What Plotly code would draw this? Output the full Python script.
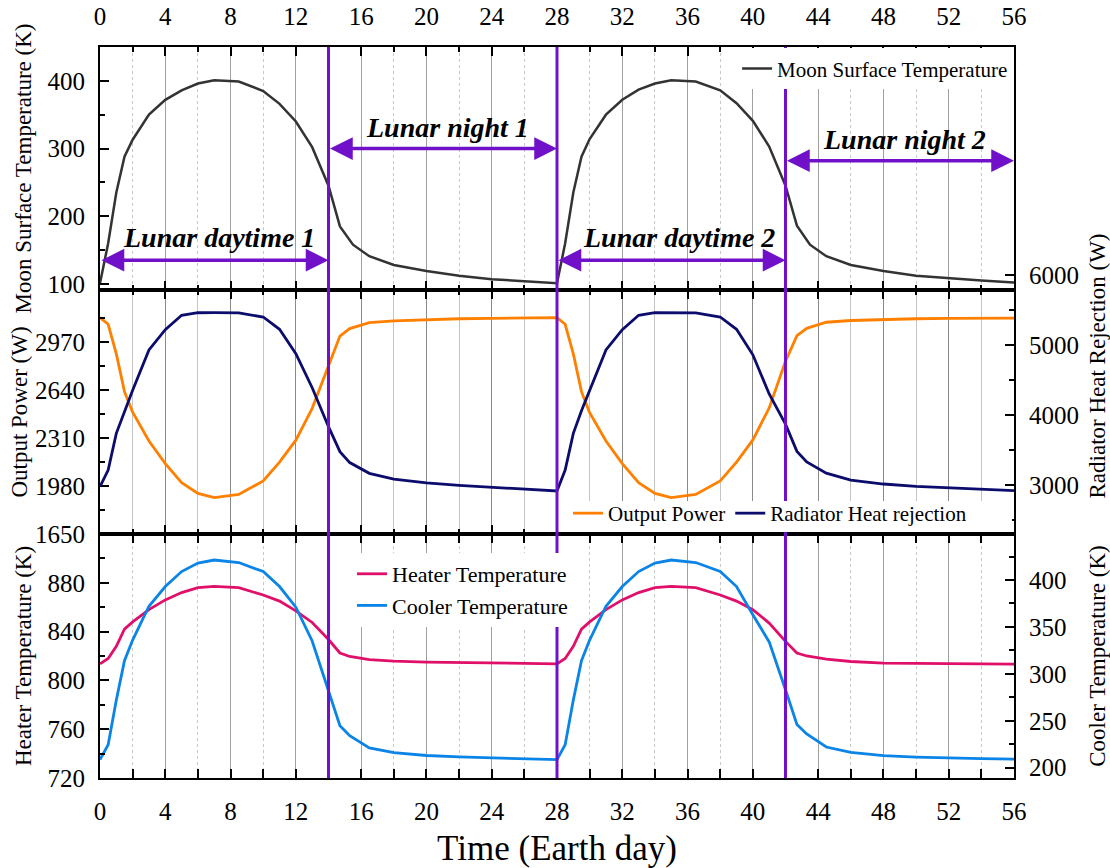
import plotly.graph_objects as go

# ---------------- data ----------------
days_moon = [0, 0.5, 1, 1.5, 2, 3, 4, 5, 6, 7, 8.5, 10, 11, 12, 13, 14, 14.7, 15.5, 16.5, 18, 20, 22, 24, 26, 28,
             28.5, 29, 29.5, 30, 31, 32, 33, 34, 35, 36.5, 38, 39, 40, 41, 42, 42.7, 43.5, 44.5, 46, 48, 50, 52, 54, 56]
moon_temp = [101, 160, 235, 288, 313, 350, 372, 386, 396, 401, 399, 385, 366, 340, 302, 245, 185, 158, 141, 128, 119, 112, 107, 104, 101,
             160, 235, 288, 314, 350, 372, 387, 396, 401, 399, 386, 367, 341, 303, 245, 186, 158, 141, 128, 119, 112, 108, 105, 102]

days = [0, 0.5, 1, 1.5, 2, 3, 4, 5, 6, 7, 8.5, 10, 11, 12, 13, 14, 14.7, 15.3, 16.5, 18, 20, 22, 24, 26, 28,
        28.5, 29, 29.5, 30, 31, 32, 33, 34, 35, 36.5, 38, 39, 40, 41, 42, 42.7, 43.3, 44.5, 46, 48, 50, 52, 54, 56]
output_power = [3140, 3094, 2890, 2630, 2489, 2290, 2135, 2003, 1930, 1900, 1922, 2015, 2145, 2296, 2515, 2800, 3013, 3064, 3105, 3118, 3127, 3132, 3135, 3137, 3140,
                3094, 2890, 2630, 2485, 2290, 2135, 2003, 1930, 1900, 1922, 2015, 2145, 2298, 2518, 2840, 3015, 3066, 3108, 3120, 3128, 3132, 3134, 3135, 3136]
radiator = [2976, 3214, 3738, 4060, 4355, 4930, 5218, 5424, 5461, 5462, 5458, 5400, 5224, 4875, 4390, 3833, 3476, 3320, 3167, 3085, 3029, 2995, 2971, 2945, 2914,
            3214, 3738, 4060, 4355, 4930, 5218, 5424, 5461, 5462, 5458, 5400, 5224, 4860, 4300, 3870, 3480, 3330, 3170, 3071, 3014, 2980, 2957, 2935, 2919]
heater = [813.6, 818, 828, 842, 848, 858, 866, 872, 876, 877, 876, 870, 865, 857, 847.5, 833.5, 822.5, 819.6, 817, 815.8, 815, 814.5, 814, 813.8, 813.6,
          818, 828, 842, 848, 858, 866, 872, 876, 877, 876, 870, 865, 858, 847, 832, 822.4, 820, 817.5, 815.5, 814.2, 814, 813.8, 813.6, 813.4]
cooler = [208.5, 224.5, 272, 314, 336, 372, 393, 409, 418, 421.3, 418.6, 409, 393, 371, 335, 281, 244.7, 234, 221, 216, 213, 211.5, 210.5, 209.5, 208.5,
          224.5, 272, 314, 336, 372, 393, 409, 418, 421.3, 418.6, 409, 393, 363, 334, 283, 246, 236, 222, 216.3, 212.8, 211.3, 210.3, 209.6, 209.2]

x_ticks = list(range(0, 57, 4))
phase_bounds = [14, 28, 42]
phases = [
    # label, start, end, arrow level, label x, label y
    ("Lunar daytime 1", 0, 14, 135, 7.3, 168),
    ("Lunar night 1", 14, 28, 300, 21.3, 331),
    ("Lunar daytime 2", 28, 42, 135, 35.5, 168),
    ("Lunar night 2", 42, 56, 282, 49.3, 313),
]

# ---------------- styles ----------------
FONT = "Liberation Serif"
PURPLE = "#7010C8"
C_MOON = "#333333"
C_POWER = "#FF8000"
C_RAD = "#0C0C6C"
C_HEAT = "#E0106A"
C_COOL = "#0A84E6"

fig = go.Figure()

fig.add_trace(go.Scatter(x=days_moon, y=moon_temp, mode="lines", name="Moon Surface Temperature",
                         line=dict(color=C_MOON, width=2.5), xaxis="x", yaxis="y", legend="legend"))
fig.add_trace(go.Scatter(x=days, y=output_power, mode="lines", name="Output Power",
                         line=dict(color=C_POWER, width=2.8), xaxis="x2", yaxis="y2", legend="legend2"))
fig.add_trace(go.Scatter(x=days, y=radiator, mode="lines", name="Radiator Heat rejection",
                         line=dict(color=C_RAD, width=2.8), xaxis="x4", yaxis="y4", legend="legend2"))
fig.add_trace(go.Scatter(x=days, y=heater, mode="lines", name="Heater Temperature",
                         line=dict(color=C_HEAT, width=2.8), xaxis="x3", yaxis="y3", legend="legend3"))
fig.add_trace(go.Scatter(x=days, y=cooler, mode="lines", name="Cooler Temperature",
                         line=dict(color=C_COOL, width=2.8), xaxis="x3", yaxis="y5", legend="legend3"))

H = 731.0
W = 914.0
def py(px):
    return (778 - px) / H
def px_(x):
    return (x - 100) / W

D_TOP = [py(290), 1.0]
D_MID = [py(534), py(290)]
D_BOT = [0.0, py(534)]
D_RAD = [py(534), py(198)]

tickfont = dict(family=FONT, size=25, color="black")
titlefont = dict(family=FONT, size=23, color="black")

def xax(anchor, side, labels, gridc, minor_dash, minor_gridc, title=None):
    d = dict(domain=[0, 1], anchor=anchor, range=[0, 56], side=side,
             tickvals=x_ticks, showticklabels=labels, ticks="inside", ticklen=9, tickwidth=2,
             tickcolor="black", showline=True, linewidth=2, linecolor="black", mirror="allticks",
             showgrid=True, gridcolor=gridc, gridwidth=1, zeroline=False, tickfont=tickfont,
             ticklabelstandoff=10, automargin=False,
             minor=dict(dtick=2, tick0=0, ticks="inside", ticklen=5, tickwidth=2, tickcolor="black",
                        showgrid=True, gridcolor=minor_gridc, griddash=minor_dash, gridwidth=1))
    if title:
        d["title"] = dict(text=title, font=dict(family=FONT, size=35, color="black"), standoff=12)
    return d

def yax(domain, rng, tickvals, minor_vals, title, side="left", anchor="x", mirror=False, overlaying=None, standoff=10):
    d = dict(domain=domain, range=rng, side=side, anchor=anchor, tickvals=tickvals,
             ticks="inside", ticklen=9, tickwidth=2, tickcolor="black", showline=True, linewidth=2,
             linecolor="black", mirror=mirror, showgrid=False, zeroline=False, tickfont=tickfont,
             ticklabelstandoff=8, automargin=False,
             title=dict(text=title, font=titlefont, standoff=standoff),
             minor=dict(tickvals=minor_vals, ticks="inside", ticklen=5, tickwidth=2, tickcolor="black", showgrid=False))
    if overlaying:
        d["overlaying"] = overlaying
        d.pop("domain")
    return d

fig.update_layout(
    width=1110, height=868,
    margin=dict(l=100, r=96, t=47, b=90),
    paper_bgcolor="white", plot_bgcolor="rgba(0,0,0,0)",
    font=dict(family=FONT, color="black"),
    xaxis=xax("y", "top", True, "#A0A0A0", "dot", "#C8C8C8"),
    xaxis2=dict(xax("y2", "bottom", False, "#8A8A8A", "solid", "#C4C4C4"), matches="x"),
    xaxis3=dict(xax("y3", "bottom", True, "#A0A0A0", "dot", "#C8C8C8", title="Time (Earth day)"), matches="x"),
    xaxis4=dict(domain=[0, 1], anchor="y4", range=[0, 56], visible=False, showgrid=False),
    yaxis=yax(D_TOP, [91, 450], [100, 200, 300, 400], [150, 250, 350],
              "Moon Surface Temperature (K)", mirror=True, standoff=9),
    yaxis2=yax(D_MID, [1650, 3330], [1650, 1980, 2310, 2640, 2970], [1815, 2145, 2475, 2805, 3135],
               "Output Power (W)", anchor="x2", standoff=1),
    yaxis4=yax(D_RAD, [2300, 7100], [3000, 4000, 5000, 6000], [2500, 3500, 4500, 5500],
               "Radiator Heat Rejection (W)", side="right", anchor="x4", standoff=14),
    yaxis3=yax(D_BOT, [720, 920], [720, 760, 800, 840, 880], [740, 780, 820, 860, 900],
               "Heater Temperature (K)", anchor="x3", standoff=9),
    yaxis5=yax(None, [189, 449], [200, 250, 300, 350, 400], [225, 275, 325, 375, 425],
               "Cooler Temperature (K)", side="right", anchor="x3", overlaying="y3", standoff=24),
    legend=dict(x=0.999, xanchor="right", y=0.998, yanchor="top", bgcolor="white",
                font=dict(family=FONT, size=21, color="black"), itemwidth=30, tracegroupgap=0),
    legend2=dict(x=px_(568), xanchor="left", y=D_MID[0], yanchor="bottom", orientation="h",
                 bgcolor="rgba(0,0,0,0)", font=dict(family=FONT, size=21, color="black"),
                 itemwidth=30),
    legend3=dict(x=px_(352), xanchor="left", y=py(553), yanchor="top", bgcolor="white",
                 font=dict(family=FONT, size=22, color="black"), itemwidth=30, tracegroupgap=0),
    showlegend=True,
)

# vertical phase boundaries
for xb in phase_bounds:
    fig.add_shape(type="line", xref="x3", yref="paper", x0=xb, x1=xb, y0=0, y1=1,
                  line=dict(color=PURPLE, width=3), layer="above")

# white backing of the middle legend (covers grid lines like the original legend box)
fig.add_shape(type="rect", xref="paper", yref="paper", x0=px_(564), x1=px_(1012),
              y0=py(532), y1=py(501), fillcolor="white", line=dict(width=0), layer="above")

# phase arrows and labels
for label, x0, x1, yl, lx, ly in phases:
    fig.add_annotation(xref="x", yref="y", axref="x", ayref="y", x=x1, y=yl, ax=x0, ay=yl,
                       text="", showarrow=True, arrowside="end+start", arrowhead=2,
                       arrowsize=1.3, arrowwidth=3.5, arrowcolor=PURPLE, standoff=0, startstandoff=0)
    fig.add_annotation(xref="x", yref="y", x=lx, y=ly, text="<b><i>" + label + "</i></b>",
                       showarrow=False, font=dict(family=FONT, size=28, color="black"))

fig.write_html("out.html")
